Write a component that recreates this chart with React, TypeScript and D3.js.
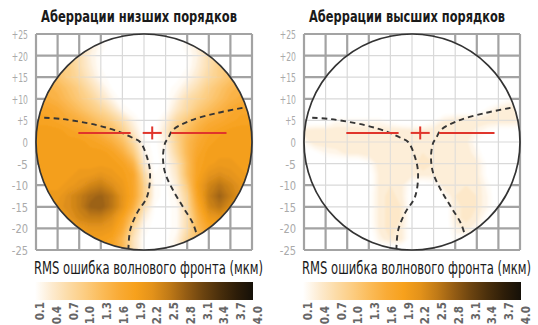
import React from "react";
import * as d3 from "d3";

// ---------- data ----------
const AXIS_TICKS = [25, 20, 15, 10, 5, 0, -5, -10, -15, -20, -25];
const LEGEND_TICKS = ["0.1", "0.4", "0.7", "1.0", "1.3", "1.6", "1.9", "2.2", "2.5", "2.8", "3.1", "3.4", "3.7", "4.0"];
const COLOR_DOMAIN = [0.1, 0.4, 0.7, 1.0, 1.3, 1.6, 1.9, 2.2, 2.5, 2.8, 3.1, 3.4, 3.7, 4.0];
const COLOR_RANGE = ["#ffffff", "#fdebd0", "#fcdba6", "#fccc80", "#fbbb58", "#f9ab36", "#f7a11c", "#e3921a", "#c07a17", "#955d14", "#6c4410", "#4a2f0c", "#2d1d08", "#151008"];
const TITLES = ["Аберрации низших порядков", "Аберрации высших порядков"];
const LEGEND_TITLE = "RMS ошибка волнового фронта (мкм)";

// RMS wavefront error sampled every 2.5 units, rows from y=+25 (top) to y=-25, columns x=-25..+25
const LOW_ORDER: number[][] = [
  [0.6, 0.6, 0.6, 0.6, 0.6, 0.45, 0.15, 0.1, 0.1, 0.1, 0.1, 0.1, 0.1, 0.1, 0.15, 0.45, 0.6, 0.6, 0.6, 0.6, 0.6],
  [0.7, 0.7, 0.7, 0.7, 0.6, 0.45, 0.2, 0.1, 0.1, 0.1, 0.1, 0.1, 0.1, 0.1, 0.2, 0.45, 0.6, 0.7, 0.7, 0.7, 0.7],
  [0.9, 0.9, 0.9, 0.9, 0.7, 0.35, 0.15, 0.1, 0.1, 0.1, 0.1, 0.1, 0.1, 0.1, 0.15, 0.35, 0.7, 0.9, 0.9, 0.9, 0.9],
  [1.1, 1.1, 1.1, 1.0, 0.7, 0.4, 0.15, 0.1, 0.1, 0.1, 0.1, 0.1, 0.1, 0.1, 0.15, 0.4, 0.7, 1.0, 1.1, 1.1, 1.1],
  [1.3, 1.3, 1.2, 1.0, 0.8, 0.5, 0.2, 0.1, 0.1, 0.1, 0.1, 0.1, 0.1, 0.1, 0.25, 0.5, 0.8, 1.0, 1.2, 1.3, 1.3],
  [1.5, 1.5, 1.4, 1.2, 1.0, 0.7, 0.4, 0.15, 0.1, 0.1, 0.1, 0.1, 0.1, 0.2, 0.45, 0.7, 1.0, 1.2, 1.4, 1.5, 1.5],
  [1.6, 1.6, 1.5, 1.3, 1.1, 0.9, 0.6, 0.3, 0.1, 0.1, 0.1, 0.1, 0.1, 0.35, 0.7, 0.9, 1.1, 1.3, 1.5, 1.6, 1.6],
  [1.8, 1.8, 1.7, 1.5, 1.3, 1.1, 0.9, 0.6, 0.25, 0.1, 0.1, 0.1, 0.15, 0.5, 0.8, 1.1, 1.3, 1.5, 1.7, 1.8, 1.8],
  [1.9, 1.9, 1.8, 1.7, 1.6, 1.4, 1.2, 1.0, 0.7, 0.3, 0.1, 0.1, 0.35, 0.8, 1.1, 1.4, 1.6, 1.7, 1.8, 1.9, 1.9],
  [2.0, 2.0, 2.0, 1.9, 1.8, 1.7, 1.5, 1.3, 1.0, 0.5, 0.1, 0.1, 0.5, 1.0, 1.3, 1.6, 1.8, 1.9, 2.0, 2.0, 2.0],
  [2.0, 2.0, 2.0, 2.0, 2.0, 1.9, 1.8, 1.6, 1.3, 0.8, 0.2, 0.1, 0.35, 0.9, 1.4, 1.7, 1.9, 2.0, 2.0, 2.0, 2.0],
  [2.0, 2.0, 2.0, 2.0, 2.0, 2.0, 2.0, 1.9, 1.6, 1.1, 0.3, 0.1, 0.25, 0.8, 1.4, 1.8, 2.0, 2.0, 2.0, 2.0, 2.0],
  [2.0, 2.0, 2.0, 2.0, 2.0, 2.0, 2.0, 2.0, 1.9, 1.5, 0.5, 0.1, 0.2, 0.6, 1.3, 1.9, 2.0, 2.1, 2.1, 2.0, 2.0],
  [2.0, 2.0, 2.0, 2.0, 2.1, 2.1, 2.2, 2.1, 2.0, 1.8, 0.8, 0.15, 0.15, 0.5, 1.3, 1.9, 2.2, 2.3, 2.2, 2.1, 2.0],
  [2.0, 2.0, 2.0, 2.1, 2.2, 2.4, 2.5, 2.3, 2.1, 1.8, 1.0, 0.2, 0.1, 0.4, 1.1, 2.0, 2.4, 2.6, 2.4, 2.2, 2.1],
  [2.1, 2.1, 2.1, 2.3, 2.5, 2.7, 2.8, 2.6, 2.2, 1.8, 1.0, 0.2, 0.1, 0.3, 0.9, 1.9, 2.5, 2.8, 2.5, 2.2, 2.1],
  [2.1, 2.1, 2.2, 2.3, 2.5, 2.8, 2.85, 2.6, 2.2, 1.6, 0.7, 0.15, 0.1, 0.2, 0.8, 1.7, 2.4, 2.6, 2.3, 2.1, 2.1],
  [2.2, 2.2, 2.2, 2.2, 2.4, 2.5, 2.5, 2.3, 1.9, 1.2, 0.4, 0.1, 0.1, 0.2, 0.7, 1.5, 2.1, 2.2, 2.1, 2.1, 2.1],
  [2.1, 2.1, 2.1, 2.1, 2.1, 2.2, 2.2, 2.1, 1.7, 0.8, 0.2, 0.1, 0.1, 0.2, 0.7, 1.4, 1.8, 1.8, 1.8, 1.8, 1.8],
  [2.0, 2.0, 2.0, 2.0, 2.0, 2.0, 2.0, 1.9, 1.4, 0.6, 0.15, 0.1, 0.1, 0.3, 0.9, 1.2, 1.4, 1.4, 1.4, 1.4, 1.4],
  [2.0, 2.0, 2.0, 2.0, 2.0, 2.0, 2.0, 1.9, 1.4, 0.6, 0.15, 0.1, 0.1, 0.3, 0.9, 1.2, 1.4, 1.4, 1.4, 1.4, 1.4],
];

const HIGH_ORDER: number[][] = [
  [0, 0, 0, 0, 0, 0, 0, 0, 0, 0, 0, 0, 0, 0, 0, 0, 0, 0, 0, 0, 0],
  [0, 0, 0, 0, 0, 0, 0, 0, 0, 0, 0, 0, 0, 0, 0, 0, 0, 0, 0, 0, 0],
  [0, 0, 0, 0, 0, 0, 0, 0, 0, 0, 0, 0, 0, 0, 0, 0, 0, 0, 0, 0, 0],
  [0, 0, 0, 0, 0, 0, 0, 0, 0, 0, 0, 0, 0, 0, 0, 0, 0, 0, 0, 0, 0],
  [0, 0, 0, 0, 0, 0, 0, 0, 0, 0, 0, 0, 0, 0, 0, 0, 0, 0, 0, 0, 0],
  [0, 0, 0, 0, 0, 0, 0, 0, 0, 0, 0, 0, 0, 0, 0, 0, 0, 0, 0, 0, 0],
  [0, 0, 0, 0, 0, 0, 0, 0, 0, 0, 0, 0, 0, 0, 0, 0, 0, 0, 0, 0.15, 0.2],
  [0, 0, 0, 0, 0, 0, 0, 0, 0, 0, 0, 0, 0, 0, 0, 0, 0, 0.2, 0.4, 0.45, 0.45],
  [0, 0, 0, 0.2, 0.2, 0.2, 0.2, 0.2, 0.1, 0, 0, 0, 0.15, 0.35, 0.45, 0.45, 0.45, 0.45, 0.45, 0.45, 0.4],
  [0.4, 0.45, 0.45, 0.45, 0.45, 0.45, 0.45, 0.45, 0.45, 0.45, 0.4, 0.4, 0.45, 0.45, 0.45, 0.45, 0.3, 0.15, 0.05, 0.05, 0.05],
  [0.25, 0.45, 0.45, 0.45, 0.45, 0.45, 0.45, 0.45, 0.45, 0.45, 0.45, 0.4, 0.45, 0.45, 0.45, 0.4, 0.15, 0, 0, 0, 0],
  [0, 0.1, 0.25, 0.3, 0.4, 0.4, 0.45, 0.45, 0.45, 0.45, 0.4, 0.45, 0.45, 0.45, 0.45, 0.45, 0.25, 0, 0, 0, 0],
  [0, 0, 0, 0, 0, 0, 0.15, 0.45, 0.45, 0.45, 0.4, 0.55, 0.45, 0.45, 0.45, 0.45, 0.4, 0.1, 0, 0, 0],
  [0, 0, 0, 0, 0, 0, 0.05, 0.4, 0.45, 0.45, 0.4, 0.4, 0.4, 0.45, 0.45, 0.45, 0.4, 0.1, 0, 0, 0],
  [0, 0, 0, 0, 0, 0, 0.05, 0.4, 0.45, 0.4, 0.1, 0.05, 0.1, 0.45, 0.45, 0.45, 0.45, 0.2, 0, 0, 0],
  [0, 0, 0, 0, 0, 0, 0.1, 0.4, 0.5, 0.4, 0.05, 0, 0, 0.2, 0.45, 0.5, 0.45, 0.25, 0, 0, 0],
  [0, 0, 0, 0, 0, 0, 0.1, 0.4, 0.5, 0.45, 0.05, 0, 0, 0, 0.4, 0.5, 0.45, 0.25, 0, 0, 0],
  [0, 0, 0, 0, 0, 0, 0.1, 0.4, 0.5, 0.45, 0.05, 0, 0, 0, 0.4, 0.5, 0.4, 0.1, 0, 0, 0],
  [0, 0, 0, 0, 0, 0, 0.05, 0.4, 0.5, 0.4, 0.05, 0, 0, 0, 0.3, 0.4, 0.25, 0, 0, 0, 0],
  [0, 0, 0, 0, 0, 0, 0, 0.3, 0.45, 0.4, 0.05, 0, 0, 0, 0.2, 0.1, 0, 0, 0, 0, 0],
  [0, 0, 0, 0, 0, 0, 0, 0, 0, 0, 0, 0, 0, 0, 0, 0, 0, 0, 0, 0, 0],
];

// dashed pupil boundary curves [x, y] in field units
const CURVE_LEFT: [number, number][] = [
  [-23.1, 5.6], [-18.8, 5.3], [-10.9, 3.9], [-5.6, 2.3], [-2.5, 0.9], [-0.9, 0], [0.7, -3.5],
  [1.4, -7.2], [0.7, -12.7], [-1.6, -16.4], [-3.2, -20.4], [-3.6, -24.6],
];
const CURVE_RIGHT: [number, number][] = [
  [22.8, 7.9], [16.9, 6.7], [10.6, 4.9], [6.7, 2.8], [5.6, 0.9], [4.9, -0.2], [4.4, -3.5],
  [4.9, -7.2], [6.7, -11.1], [9.0, -15.0], [11.3, -18.8], [12.2, -21.4],
];
// red reference marks
const RED_Y = 2.1;
const RED_BARS: [number, number][] = [[-15.2, -3.1], [6.3, 19.1]];
const RED_CROSS = { x: 1.9, y: 2.1, hx: 2.2, hy: 1.5 };

// ---------- layout ----------
const PLOT = 216;
const TOP = 34;
const PANEL_X = [36, 304];
const FONT = "'Liberation Sans Narrow', 'DejaVu Sans Condensed', 'Arial Narrow', sans-serif";

const color = d3.scaleLinear<string>().domain(COLOR_DOMAIN).range(COLOR_RANGE).clamp(true);
const THRESHOLDS = d3.range(0.15, 4.0, 0.1);

function Panel({ id, x0, title, rows }: { id: string; x0: number; title: string; rows: number[][] }) {
  const xs = d3.scaleLinear().domain([-25, 25]).range([0, PLOT]);
  const ys = d3.scaleLinear().domain([-25, 25]).range([PLOT, 0]);
  const n = rows[0].length;
  const m = rows.length;
  const step = 50 / (n - 1);
  const flat = rows.flat();
  const contours = d3.contours().size([n, m]).thresholds(THRESHOLDS)(flat);
  const proj = d3.geoTransform({
    point(x: number, y: number) {
      (this as any).stream.point(xs(-25 + (x - 0.5) * step), ys(25 - (y - 0.5) * step));
    },
  });
  const path = d3.geoPath(proj as any);
  const lum = d3.scaleLinear().domain([0.1, 1.1]).range([1, 0]).clamp(true);
  const line = d3
    .line<[number, number]>()
    .x((d) => xs(d[0]))
    .y((d) => ys(d[1]))
    .curve(d3.curveCatmullRom.alpha(0.5));
  const cx = xs(0);
  const cy = ys(0);
  const r = xs(25) - xs(0);
  const legendX = d3.scaleLinear().domain([0, LEGEND_TICKS.length - 1]).range([4, 222]);

  return (
    <g transform={`translate(${x0},${TOP})`}>
      <defs>
        <clipPath id={`clip-${id}`}>
          <circle cx={cx} cy={cy} r={r} />
        </clipPath>
        <filter id={`blur-${id}`} x="-10%" y="-10%" width="120%" height="120%">
          <feGaussianBlur stdDeviation="1.2" />
        </filter>
        <mask id={`mask-${id}`} maskUnits="userSpaceOnUse" x={-20} y={-20} width={PLOT + 40} height={PLOT + 40}>
          <rect x={-20} y={-20} width={PLOT + 40} height={PLOT + 40} fill="#fff" />
          {contours.map((c, i) => {
            const v = Math.round(lum(c.value) * 255);
            return <path key={i} d={path(c as any) || ""} fill={`rgb(${v},${v},${v})`} />;
          })}
        </mask>
        <linearGradient id={`grad-${id}`} x1="0" x2="1" y1="0" y2="0">
          {COLOR_DOMAIN.map((v, i) => (
            <stop key={i} offset={(v - 0.1) / 3.9} stopColor={COLOR_RANGE[i]} />
          ))}
        </linearGradient>
      </defs>
      {/* outer grid */}
      {AXIS_TICKS.map((t) => (
        <g key={t}>
          <line x1={xs(t)} x2={xs(t)} y1={0} y2={PLOT} stroke="#a3a3a3" strokeWidth={2.2} />
          <line x1={0} x2={PLOT} y1={ys(t)} y2={ys(t)} stroke="#a3a3a3" strokeWidth={2.2} />
        </g>
      ))}
      <circle cx={cx} cy={cy} r={r} fill="#fff" />
      <g clipPath={`url(#clip-${id})`}>
        <g filter={`url(#blur-${id})`}>
          {contours.map((c, i) => (
            <path key={i} d={path(c as any) || ""} fill={color(c.value)} />
          ))}
        </g>
      </g>
      <g clipPath={`url(#clip-${id})`}>
        <g mask={`url(#mask-${id})`}>
          {AXIS_TICKS.map((t) => (
            <g key={t}>
              <line x1={xs(t)} x2={xs(t)} y1={0} y2={PLOT} stroke="#d9d9d9" strokeWidth={1.2} />
              <line x1={0} x2={PLOT} y1={ys(t)} y2={ys(t)} stroke="#d9d9d9" strokeWidth={1.2} />
            </g>
          ))}
        </g>
      </g>
      {[CURVE_LEFT, CURVE_RIGHT].map((c, i) => (
        <path key={i} d={line(c) || ""} fill="none" stroke="#353535" strokeWidth={1.9} strokeDasharray="5.5,4" />
      ))}
      {RED_BARS.map((b, i) => (
        <line key={i} x1={xs(b[0])} x2={xs(b[1])} y1={ys(RED_Y)} y2={ys(RED_Y)} stroke="#e0352b" strokeWidth={2} />
      ))}
      <line x1={xs(RED_CROSS.x - RED_CROSS.hx)} x2={xs(RED_CROSS.x + RED_CROSS.hx)} y1={ys(RED_CROSS.y)} y2={ys(RED_CROSS.y)} stroke="#e0352b" strokeWidth={2} />
      <line x1={xs(RED_CROSS.x)} x2={xs(RED_CROSS.x)} y1={ys(RED_CROSS.y + RED_CROSS.hy)} y2={ys(RED_CROSS.y - RED_CROSS.hy)} stroke="#e0352b" strokeWidth={2} />
      <circle cx={cx} cy={cy} r={r} fill="none" stroke="#333" strokeWidth={1.7} />
      {AXIS_TICKS.map((t) => {
        const label = t > 0 ? `+${t}` : `${t}`;
        return (
          <text key={t} x={-8} y={ys(t) + 5} textAnchor="end" fontSize={13} fill="#aaaaaa" fontFamily={FONT} textLength={label.length * 5.4} lengthAdjust="spacingAndGlyphs">
            {label}
          </text>
        );
      })}
      <g transform={`translate(103,-12) scale(1,1.2)`}>
        <text x={0} y={0} textAnchor="middle" fontSize={12.5} fontWeight="bold" fill="#1a1a1a" fontFamily={FONT} textLength={196} lengthAdjust="spacingAndGlyphs">
          {title}
        </text>
      </g>
      <g transform={`translate(-2,240) scale(1,1.35)`}>
        <text x={0} y={0} fontSize={13} fill="#1a1a1a" fontFamily={FONT} textLength={229} lengthAdjust="spacingAndGlyphs">
          {LEGEND_TITLE}
        </text>
      </g>
      <rect x={-1} y={248} width={218} height={18} fill={`url(#grad-${id})`} />
      {LEGEND_TICKS.map((t, i) => (
        <text
          key={t}
          transform={`translate(${legendX(i) + 4},${i % 2 === 0 ? 268 : 272}) rotate(-90)`}
          textAnchor="end"
          fontSize={11.5}
          fontWeight="bold"
          fill="#666"
          fontFamily={FONT}
        >
          {t}
        </text>
      ))}
    </g>
  );
}

export default function App() {
  return (
    <svg width={538} height={325} style={{ position: "absolute", left: 0, top: 0, background: "#fff" }}>
      <Panel id="low" x0={PANEL_X[0]} title={TITLES[0]} rows={LOW_ORDER} />
      <Panel id="high" x0={PANEL_X[1]} title={TITLES[1]} rows={HIGH_ORDER} />
    </svg>
  );
}
